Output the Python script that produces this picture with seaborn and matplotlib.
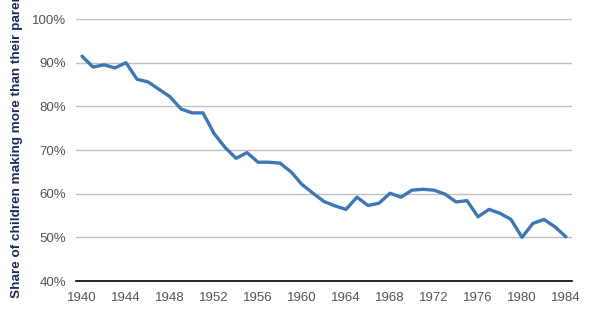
import numpy as np
import pandas as pd
import matplotlib
matplotlib.use("Agg")
import matplotlib.pyplot as plt
import seaborn as sns

# birth cohorts and share (%) of children earning more than their parents
years = list(range(1940, 1985))
share = [91.5, 89.0, 89.5, 88.8, 90.0, 86.2, 85.6, 83.9, 82.2, 79.4,
         78.5, 78.5, 73.8, 70.6, 68.1, 69.4, 67.2, 67.2, 67.0, 65.0,
         62.1, 60.1, 58.2, 57.2, 56.4, 59.2, 57.3, 57.8, 60.1, 59.2,
         60.8, 61.0, 60.8, 59.9, 58.1, 58.4, 54.7, 56.4, 55.5, 54.1,
         50.0, 53.2, 54.1, 52.4, 50.1]
x_ticks = list(range(1940, 1985, 4))
y_ticks = [40, 50, 60, 70, 80, 90, 100]

sns.set_style("white")
plt.rcParams['font.family'] = ['Liberation Sans', 'DejaVu Sans']

df = pd.DataFrame({'year': years, 'share': share})

fig = plt.figure(figsize=(5.96, 3.21), dpi=100)
ax = fig.add_axes([76 / 596, 40 / 321, 496 / 596, 262 / 321])

sns.lineplot(data=df, x='year', y='share', ax=ax, color='#3d78b6', linewidth=2.4)

ax.set_xlim(1940 - 6 / 11, 1984 + 6 / 11)
ax.set_ylim(40, 100)
ax.set_xticks(x_ticks)
ax.set_yticks(y_ticks)
ax.set_yticklabels([f'{v}%' for v in y_ticks])
ax.tick_params(axis='both', length=0, labelsize=9.5, labelcolor='#555555')
ax.tick_params(axis='x', pad=8)
ax.tick_params(axis='y', pad=7)
ax.grid(axis='y', color='#c0c0c0', linewidth=1)
ax.set_axisbelow(True)
for side in ['top', 'right', 'left']:
    ax.spines[side].set_visible(False)
ax.spines['bottom'].set_color('black')
ax.spines['bottom'].set_linewidth(1.2)
ax.set_xlabel('')
ax.set_ylabel('')

# the label runs off the top of the canvas, as in the source image
fig.text(17 / 596, 23 / 321, 'Share of children making more than their parents',
         rotation=90, ha='center', va='bottom', fontsize=9.7,
         fontweight='bold', color='#1c2d5c')

fig.savefig('out.png', dpi=100)
